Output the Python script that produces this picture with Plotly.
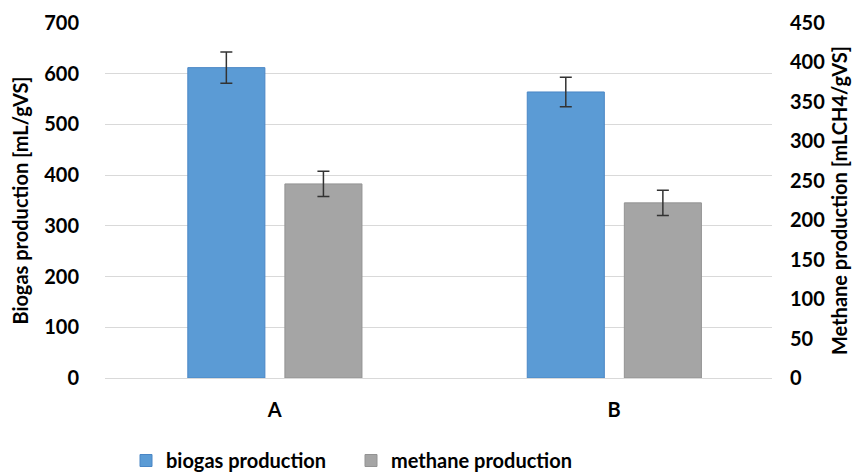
import plotly.graph_objects as go

categories = ["A", "B"]
biogas = [612, 564]
biogas_err = [31, 29]
methane = [246, 222]
methane_err = [16, 16]

FONT = "Lato"
W, H = 855, 466  # page body has an 8px default margin

fig = go.Figure()
fig.add_trace(go.Bar(
    x=categories, y=biogas, name="<b>biogas production</b>",
    marker=dict(color="#5B9BD5", line=dict(color="#4A86C5", width=1)),
    width=0.227, offset=-0.256,
    error_y=dict(type="data", array=biogas_err, color="#333333", thickness=1.5, width=6),
    yaxis="y",
))
fig.add_trace(go.Bar(
    x=categories, y=methane, name="<b>methane production</b>",
    marker=dict(color="#A5A5A5", line=dict(color="#939393", width=1)),
    width=0.227, offset=0.03,
    error_y=dict(type="data", array=methane_err, color="#333333", thickness=1.5, width=6),
    yaxis="y2",
))

tickfont = dict(family=FONT, size=20, color="#000000")
fig.update_layout(
    width=W, height=H,
    margin=dict(l=97, r=91, t=15, b=96, autoexpand=False),
    paper_bgcolor="white", plot_bgcolor="white",
    font=dict(family=FONT, color="#000000"),
    showlegend=True,
    legend=dict(orientation="h", xref="container", yref="container",
                x=118 / W, xanchor="left", y=(H - 433) / H, yanchor="top",
                font=dict(family=FONT, size=20, color="#000000"),
                entrywidth=180, entrywidthmode="pixels",
                traceorder="normal"),
    xaxis=dict(range=[-0.5, 1.465], showgrid=False, showline=True, linecolor="#D9D9D9", linewidth=1,
               tickfont=tickfont, ticks="", ticklabelstandoff=14, automargin=False,
               tickprefix="<b>", ticksuffix="</b>"),
    yaxis=dict(range=[0, 700], dtick=100, showgrid=True, gridcolor="#D9D9D9",
               zeroline=False, tickfont=tickfont, ticklabelstandoff=25, automargin=False,
               tickprefix="<b>", ticksuffix="</b>",
               title=dict(text="<b>Biogas production [mL/gVS]</b>",
                          font=dict(family=FONT, size=20), standoff=21)),
    yaxis2=dict(range=[0, 450], dtick=50, overlaying="y", side="right",
                showgrid=False, zeroline=False, tickfont=tickfont, ticklabelstandoff=17,
                automargin=False,
                tickprefix="<b>", ticksuffix="</b>",
                title=dict(text="<b>Methane production [mLCH4/gVS]</b>",
                           font=dict(family=FONT, size=20), standoff=8)),
)
fig.write_html("out.html")
